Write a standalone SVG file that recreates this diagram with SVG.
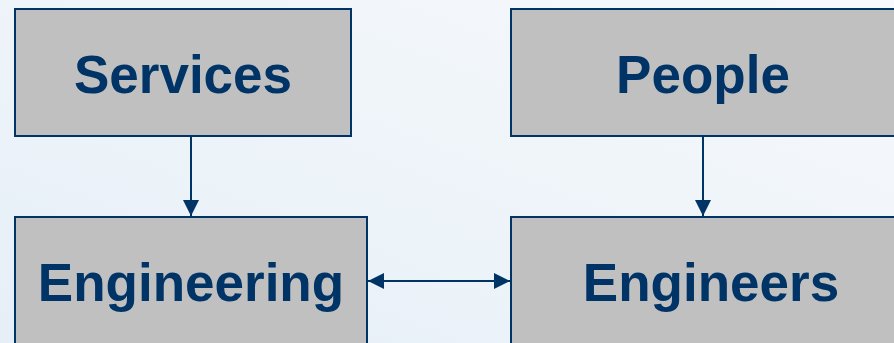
<svg xmlns="http://www.w3.org/2000/svg" width="894" height="343" viewBox="0 0 894 343">
  <defs>
    <linearGradient id="bg" x1="0" y1="1" x2="1" y2="0">
      <stop offset="0" stop-color="#e6eff8"/>
      <stop offset="0.5" stop-color="#eef4f9"/>
      <stop offset="1" stop-color="#f7f9fc"/>
    </linearGradient>
    <marker id="ah" viewBox="0 0 16 16" markerWidth="16" markerHeight="16" refX="16" refY="8" orient="auto" markerUnits="userSpaceOnUse">
      <path d="M0,0 L16,8 L0,16 Z" fill="#003366"/>
    </marker>
    <marker id="ahs" viewBox="0 0 16 16" markerWidth="16" markerHeight="16" refX="0" refY="8" orient="auto" markerUnits="userSpaceOnUse">
      <path d="M16,0 L0,8 L16,16 Z" fill="#003366"/>
    </marker>
  </defs>
  <style>
    .box { fill: #c0c0c0; stroke: #003366; stroke-width: 2; }
    .lbl { font-family: "Liberation Sans", Arial, sans-serif; font-weight: bold; font-size: 53px; fill: #003366; text-anchor: middle; }
    .edge { stroke: #003366; stroke-width: 2; fill: none; }
  </style>
  <rect x="0" y="0" width="894" height="343" fill="url(#bg)"/>
  <g id="connectors">
    <line class="edge" x1="191" y1="137" x2="191" y2="216" marker-end="url(#ah)"/>
    <line class="edge" x1="703" y1="137" x2="703" y2="216" marker-end="url(#ah)"/>
    <line class="edge" x1="368" y1="281" x2="510" y2="281" marker-start="url(#ahs)" marker-end="url(#ah)"/>
  </g>
  <g id="services">
    <rect class="box" x="15" y="9" width="336" height="127"/>
    <text class="lbl" x="183" y="93">Services</text>
  </g>
  <g id="people">
    <rect class="box" x="511" y="9" width="390" height="127"/>
    <text class="lbl" x="703" y="93">People</text>
  </g>
  <g id="engineering">
    <rect class="box" x="15" y="217" width="352" height="140"/>
    <text class="lbl" x="191" y="301">Engineering</text>
  </g>
  <g id="engineers">
    <rect class="box" x="511" y="217" width="400" height="140"/>
    <text class="lbl" x="711" y="301">Engineers</text>
  </g>
</svg>
